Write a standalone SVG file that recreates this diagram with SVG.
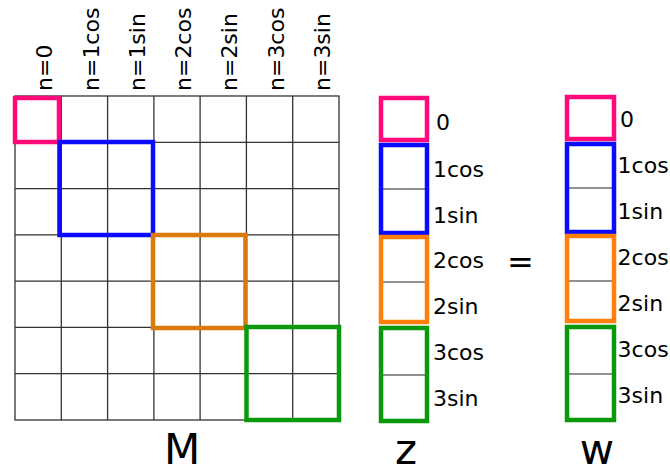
<svg xmlns="http://www.w3.org/2000/svg" width="670" height="468" viewBox="0 0 670 468">
<style>
.grid{stroke:#333;stroke-width:1.3;fill:none}
.thin{stroke:#222;stroke-width:1.2}
.box{fill:none;stroke-width:4.5}
.pink{stroke:#FF0A78}
.blue{stroke:#0A0AFF}
.orM{stroke:#D97A0A}
.orZ{stroke:#FF7F0A}
.green{stroke:#0A990A}
text{font-family:"DejaVu Sans",Verdana,sans-serif;fill:#000}
.lab{font-size:22px}
.big{font-size:42px}
</style>
<rect width="670" height="468" fill="#fff"/>
<g id="M">
<g class="grid">
<rect x="15" y="96" width="324" height="324"/>
<path d="M61.3 96V420M107.6 96V420M153.9 96V420M200.1 96V420M246.4 96V420M292.7 96V420M15 142.3H339M15 188.6H339M15 234.9H339M15 281.1H339M15 327.4H339M15 373.7H339"/>
</g>
<rect class="box pink" x="15" y="98" width="44" height="44"/>
<rect class="box blue" x="59.5" y="142" width="93.5" height="93"/>
<rect class="box orM" x="153" y="235" width="92.5" height="93"/>
<rect class="box green" x="246.5" y="327" width="92.5" height="93"/>
<g class="lab">
<text transform="translate(52,91) rotate(-90)">n=0</text>
<text transform="translate(98.5,91) rotate(-90)">n=1cos</text>
<text transform="translate(144.8,91) rotate(-90)">n=1sin</text>
<text transform="translate(191,91) rotate(-90)">n=2cos</text>
<text transform="translate(237.3,91) rotate(-90)">n=2sin</text>
<text transform="translate(283.6,91) rotate(-90)">n=3cos</text>
<text transform="translate(329.9,91) rotate(-90)">n=3sin</text>
</g>
<text class="big" x="182" y="464" text-anchor="middle">M</text>
</g>
<g id="Z">
<path class="thin" d="M381 189H427M381 282H427M381 375H427"/>
<rect class="box pink" x="381" y="98" width="46" height="42"/>
<rect class="box blue" x="381" y="145" width="46" height="88"/>
<rect class="box orZ" x="381" y="237" width="46" height="85"/>
<rect class="box green" x="381" y="328" width="46" height="93"/>
<g class="lab">
<text x="436" y="130">0</text>
<text x="433" y="177">1cos</text>
<text x="433" y="223">1sin</text>
<text x="433" y="268">2cos</text>
<text x="433" y="314">2sin</text>
<text x="433" y="360">3cos</text>
<text x="433" y="406">3sin</text>
</g>
<text class="big" x="406" y="464" text-anchor="middle">z</text>
</g>
<g id="eq">
<text x="520.5" y="273" font-size="32" text-anchor="middle">=</text>
</g>
<g id="W">
<path class="thin" d="M567 188H614M567 281H614M567 374H614"/>
<rect class="box pink" x="567" y="97" width="47" height="42"/>
<rect class="box blue" x="567" y="144" width="47" height="88"/>
<rect class="box orZ" x="567" y="236" width="47" height="85"/>
<rect class="box green" x="567" y="327" width="47" height="93"/>
<g class="lab">
<text x="620" y="127">0</text>
<text x="617.6" y="173">1cos</text>
<text x="617.6" y="219">1sin</text>
<text x="617.6" y="265">2cos</text>
<text x="617.6" y="311">2sin</text>
<text x="617.6" y="357">3cos</text>
<text x="617.6" y="403">3sin</text>
</g>
<text class="big" x="597" y="464" text-anchor="middle">w</text>
</g>
<g id="connectors"></g>
</svg>
